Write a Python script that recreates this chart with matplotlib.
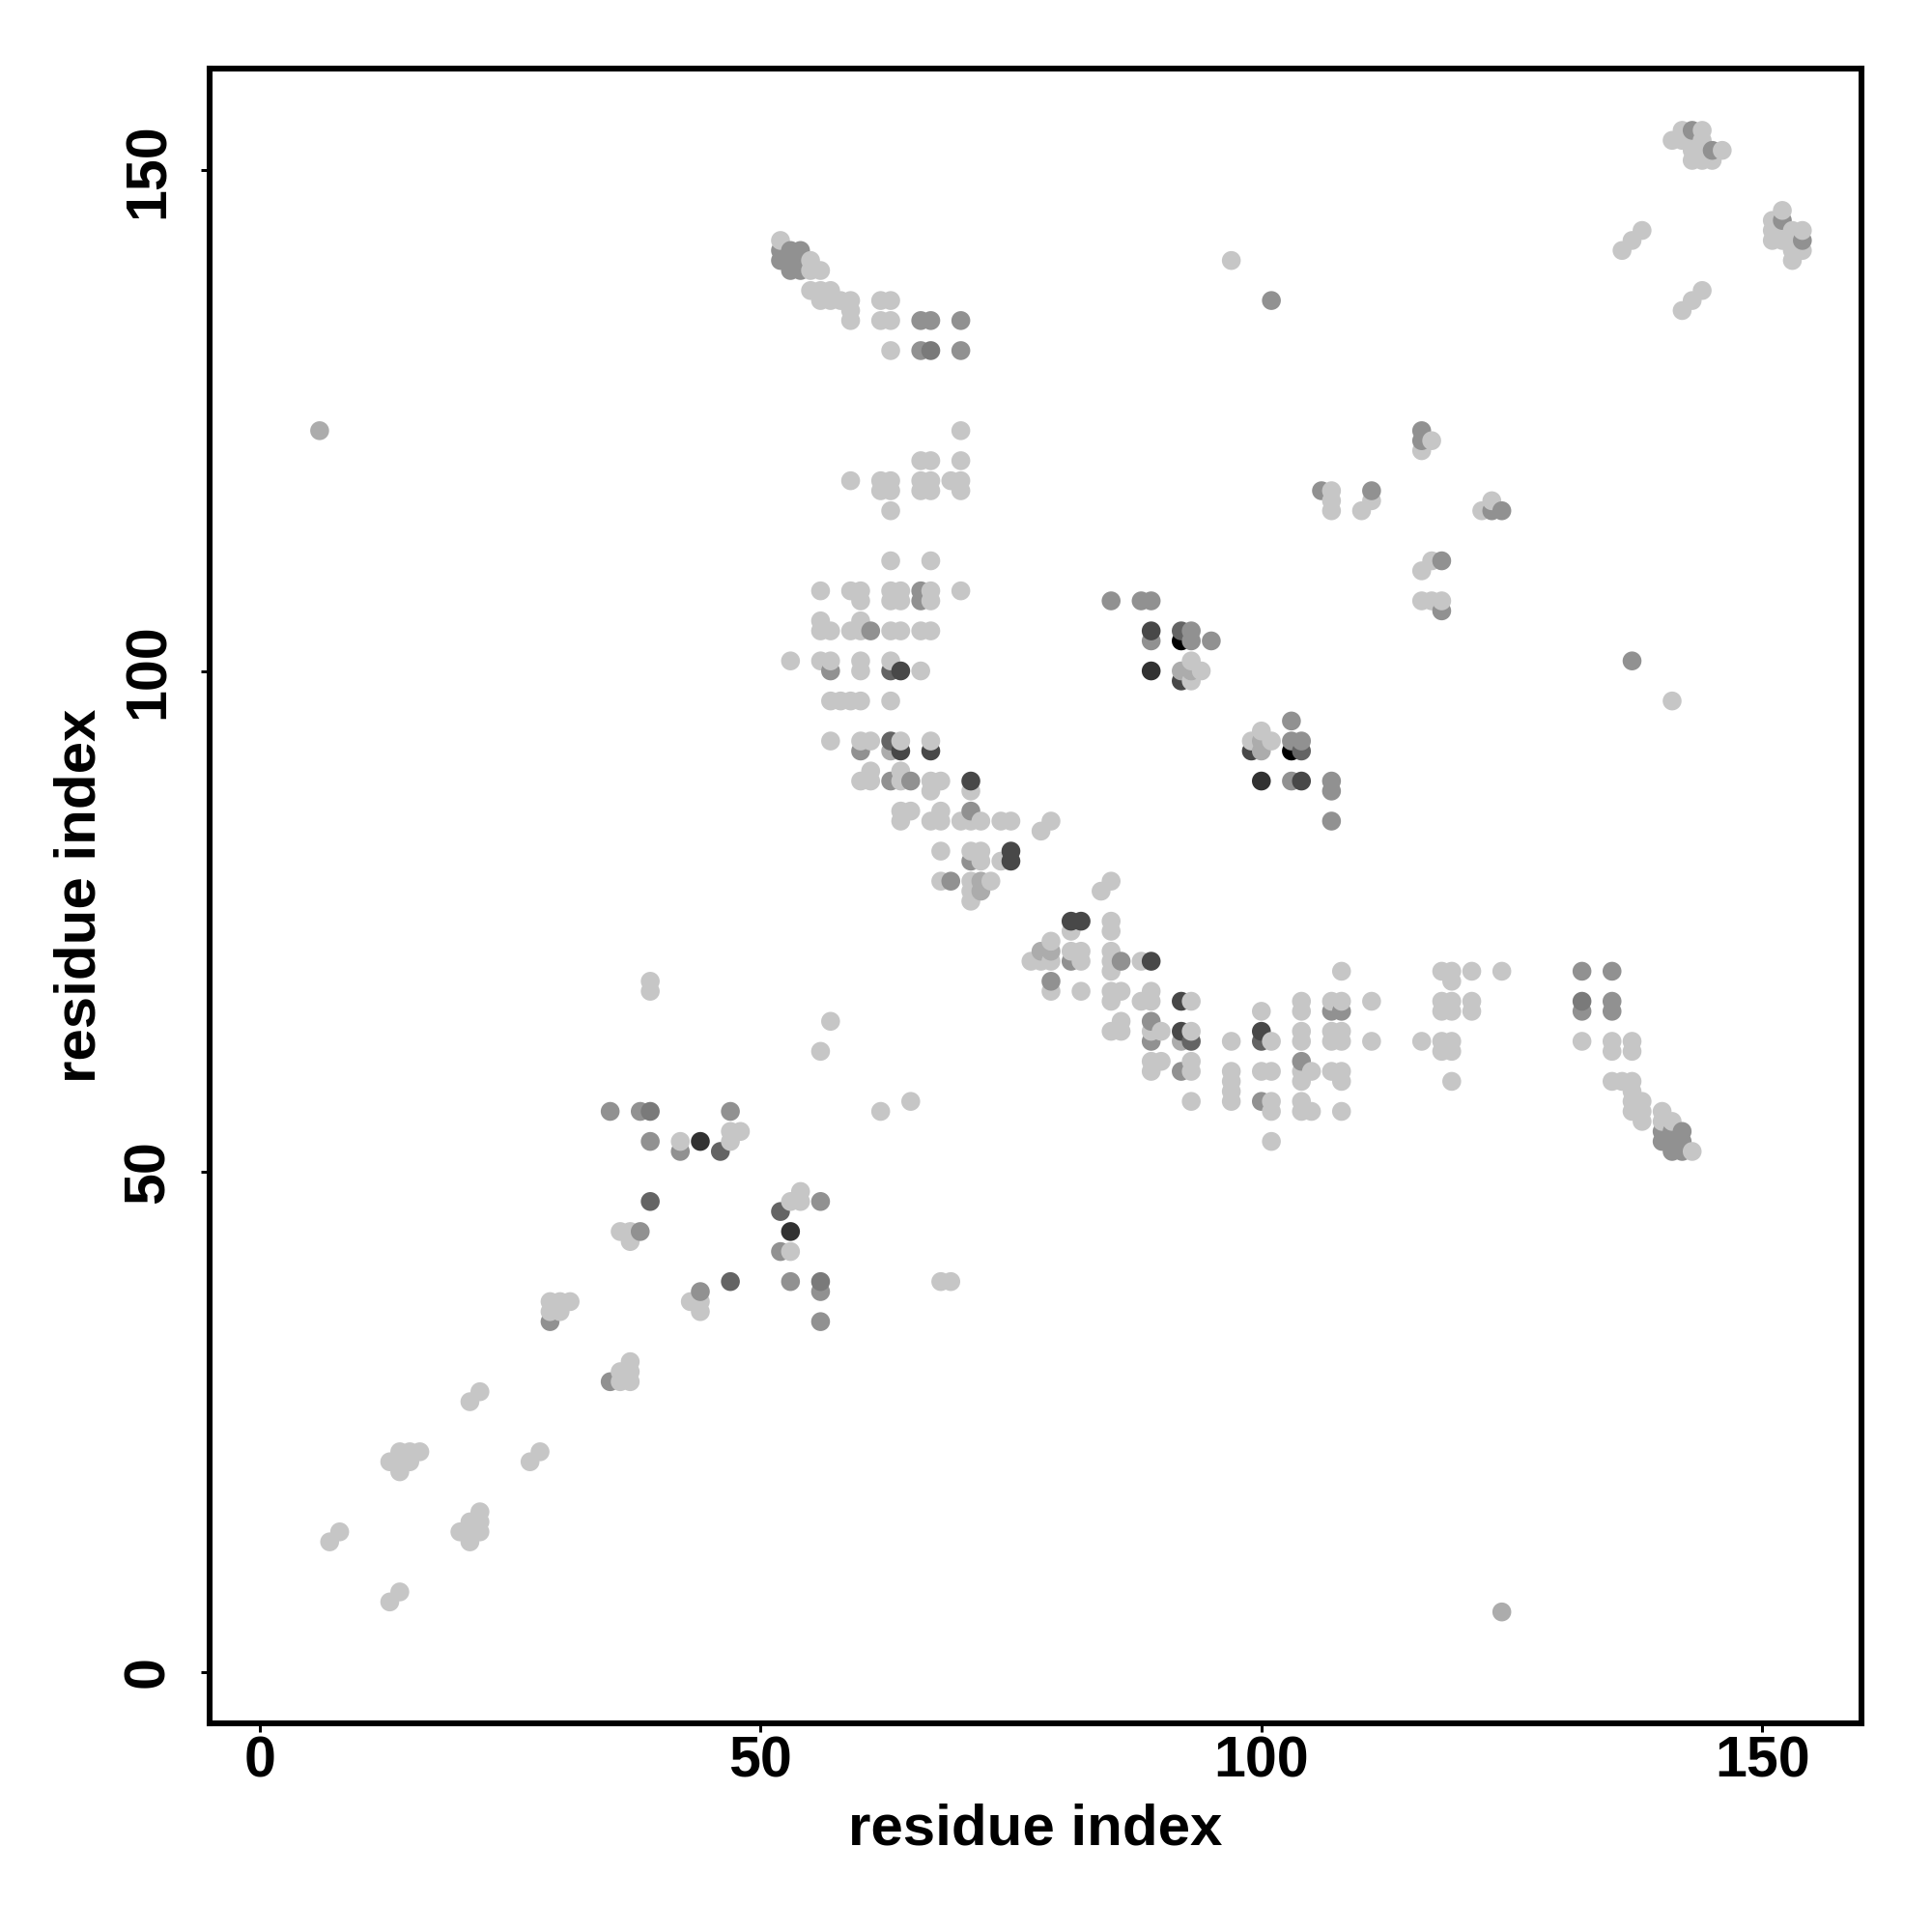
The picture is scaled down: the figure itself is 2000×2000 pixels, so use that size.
import numpy as np
import matplotlib
matplotlib.use("Agg")
import matplotlib.pyplot as plt

# Contact pairs (i < j), grouped by grey level; the map is drawn symmetric
light_pairs = [(7,13),(8,14),(13,21),(14,20),(14,21),(14,22),(15,21),(15,22),(16,22),(21,27),(22,28),
    (29,36),(29,37),(30,36),(30,37),(31,37),(36,44),(37,43),(37,44),(39,68),(39,69),(42,53),(47,53),
    (47,54),(48,54),(56,62),(57,65),(97,141),(52,143),(55,141),(55,140),(56,140),(55,138),(56,138),
    (56,137),(57,138),(57,137),(58,137),(59,137),(59,136),(59,135),(62,137),(63,137),(62,135),(63,135),
    (63,132),(70,124),(66,121),(67,121),(70,121),(59,119),(62,119),(63,119),(62,118),(63,118),(66,119),
    (67,119),(66,118),(67,118),(69,119),(70,119),(70,118),(63,116),(63,111),(67,111),(56,108),(59,108),
    (60,108),(60,107),(63,108),(64,108),(63,107),(64,107),(67,108),(67,107),(70,108),(56,105),(56,104),
    (57,104),(59,104),(60,105),(60,104),(63,104),(64,104),(66,104),(67,104),(53,101),(56,101),(57,101),
    (60,101),(60,100),(63,101),(66,100),(57,97),(58,97),(59,97),(60,97),(63,97),(57,93),(60,93),(61,93),
    (64,93),(67,93),(61,90),(60,89),(61,89),(64,90),(64,89),(67,89),(68,89),(67,88),(71,88),(64,86),
    (65,86),(64,85),(67,85),(68,85),(68,86),(68,82),(70,85),(71,85),(72,85),(74,85),(75,85),(78,84),(79,85),(71,82),
    (72,82),(72,81),(74,81),(68,79),(71,79),(73,79),(71,78),(71,77),(93,99),(93,101),(94,100),
    (136,142),(137,143),(138,144),(141,153),(142,153),(142,154),(143,151),(144,151),(145,151),(143,152),
    (144,152),(146,152),(143,153),(144,153),(144,154),(107,116),(107,117),(107,118),(110,116),(111,117),
    (116,122),(117,123)]
medium_pairs = [(6,124),(63,92),(72,79),(72,78),(92,100),(93,100)]
gray_pairs = [(35,56),(38,56),(39,53),(42,52),(47,56),(38,44),(29,35),(52,142),(52,141),(53,142),(53,141),
    (53,140),(54,142),(54,141),(54,140),(66,135),(67,135),(70,135),(66,132),(70,132),(66,108),(66,107),
    (61,104),(57,100),(60,92),(65,89),(63,89),(71,86),(71,81),(69,79),(85,107),(88,107),(89,107),(89,103),
    (93,104),(93,103),(95,103),(101,137),(106,118),(111,118),(116,123),(116,124),(143,154),(145,152)]
slate_pairs = [(39,56),(67,132)]
charcoal_pairs = [(39,47),(46,52),(63,100),(63,93),(92,104)]
dark_pairs = [(64,100),(64,92),(67,92),(71,89),(75,82),(75,81),(89,104),(92,99)]
ink_pairs = [(44,53),(89,100)]
black_pairs = [(92,103)]

pair_groups = [light_pairs, medium_pairs, gray_pairs, slate_pairs, charcoal_pairs, dark_pairs, ink_pairs, black_pairs]
group_levels = [198, 172, 145, 122, 100, 72, 50, 0]

x_ticks = [0, 50, 100, 150]
y_ticks = [0, 50, 100, 150]
x_label = "residue index"
y_label = "residue index"

xs, ys, levels = [], [], []
for pairs, level in zip(pair_groups, group_levels):
    for a, b in pairs:
        xs += [a, b]
        ys += [b, a]
        levels += [level, level]
xs, ys, levels = map(np.array, (xs, ys, levels))
order = np.lexsort((ys, xs))
xs, ys, levels = xs[order], ys[order], levels[order]

plt.rcParams['font.family'] = ['Liberation Sans', 'DejaVu Sans']
plt.rcParams['font.weight'] = 'bold'

fig = plt.figure(figsize=(2000/300, 2000/300), dpi=300, facecolor='white')
L, R, T, B = 216.5, 1927.0, 71.0, 1783.5
ax = fig.add_axes([L/2000, 1-B/2000, (R-L)/2000, (B-T)/2000])
ax.scatter(xs, ys, s=22, c=[str(v/255) for v in levels], linewidths=0, zorder=2)
ax.set_xlim(-5.03, 159.9)
ax.set_ylim(-5.08, 160.17)
ax.set_xticks(x_ticks)
ax.set_yticks(y_ticks)
for s in ax.spines.values():
    s.set_linewidth(1.45)
ax.tick_params(axis='x', length=2.2, width=0.72, labelsize=14.2, pad=0.8)
ax.tick_params(axis='y', length=2.2, width=0.72, labelsize=14.2, pad=6.2)
for t in ax.get_yticklabels():
    t.set_rotation(90)
    t.set_va('center')
ax.set_xlabel(x_label, fontsize=14.4, fontweight='bold', labelpad=3.7)
ax.set_ylabel(y_label, fontsize=14.4, fontweight='bold', labelpad=3.9)
fig.savefig('out.png', dpi=300, facecolor='white')
